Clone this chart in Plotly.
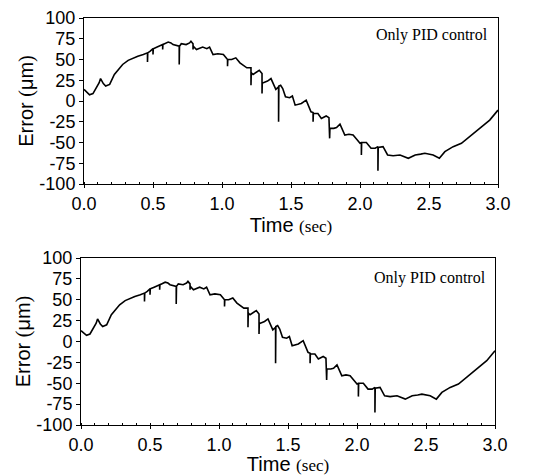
import plotly.graph_objects as go

# Time samples (s); repeated times mark the narrow downward spikes
time_s = [0, 0.02, 0.04, 0.065, 0.09, 0.11, 0.12, 0.14, 0.157, 0.186, 0.22, 0.25, 0.28, 0.32, 0.355,
          0.39, 0.43, 0.46, 0.46, 0.462, 0.48, 0.5, 0.5, 0.502, 0.53, 0.57, 0.57, 0.572, 0.61,
          0.63, 0.645, 0.69, 0.69, 0.692, 0.705, 0.74, 0.765, 0.775, 0.79, 0.79, 0.792, 0.815,
          0.84, 0.86, 0.89, 0.91, 0.935, 0.97, 1.01, 1.04, 1.04, 1.042, 1.07, 1.10, 1.13, 1.16,
          1.18, 1.20, 1.21, 1.21, 1.212, 1.225, 1.25, 1.27, 1.29, 1.29, 1.292, 1.30, 1.33,
          1.355, 1.39, 1.41, 1.41, 1.412, 1.425, 1.44, 1.46, 1.49, 1.51, 1.53, 1.575, 1.61,
          1.645, 1.66, 1.66, 1.662, 1.695, 1.72, 1.755, 1.775, 1.78, 1.782, 1.81, 1.83, 1.855,
          1.89, 1.92, 1.95, 2.0, 2.01, 2.01, 2.012, 2.046, 2.08, 2.11, 2.13, 2.13, 2.132, 2.167,
          2.2, 2.24, 2.29, 2.35, 2.4, 2.44, 2.47, 2.53, 2.575, 2.615, 2.675, 2.735, 2.795,
          2.87, 2.94, 3.0]

error_top = [14, 11, 7.5, 9, 16, 22, 27, 21, 18, 20, 32, 38, 44, 49, 52,
             54, 56, 58, 47, 58, 60, 63, 56, 63, 65, 68, 62, 68, 71,
             70, 68, 66, 44, 66, 69, 68, 70, 72, 69, 62, 66, 62,
             64, 65, 63, 65, 56, 57, 56, 50, 42, 50, 50, 52, 46, 42,
             40, 40, 40, 19, 34, 32, 35, 37, 33, 9, 22, 22, 24,
             27, 14, 17, -25, 18, 19, 15, 5, 4, 6, -5, -3, 1,
             -13, -14, -25, -15, -15, -21, -18, -20, -45, -33, -33, -32, -28,
             -41, -40, -41, -51, -50, -65, -50, -50, -57, -57, -55, -84, -56, -55,
             -65, -66, -65, -69, -65, -64, -63, -65, -69, -61, -55, -51, -43,
             -33, -23, -11]

error_bottom = [13, 10, 7.5, 9, 16, 22, 27, 21, 18, 20, 32, 38, 44, 49, 52,
                54, 56, 58, 48, 58, 60, 63, 56, 63, 65, 68, 62, 68, 71,
                70, 68, 66, 45, 66, 69, 68, 70, 72, 69, 62, 66, 62,
                64, 65, 63, 65, 56, 57, 56, 50, 42, 50, 50, 52, 46, 42,
                40, 40, 40, 17, 34, 32, 35, 37, 33, 9, 22, 22, 24,
                27, 14, 17, -26, 18, 19, 15, 5, 4, 6, -5, -3, 1,
                -13, -14, -26, -15, -15, -21, -18, -20, -46, -33, -33, -32, -28,
                -41, -40, -41, -51, -50, -66, -50, -50, -57, -57, -55, -85, -56, -55,
                -65, -66, -65, -69, -65, -64, -63, -65, -69, -61, -55, -51, -43,
                -33, -23, -11]

x_ticks = [0.0, 0.5, 1.0, 1.5, 2.0, 2.5, 3.0]
x_tick_labels = ["0.0", "0.5", "1.0", "1.5", "2.0", "2.5", "3.0"]
y_ticks = [-100, -75, -50, -25, 0, 25, 50, 75, 100]
y_tick_labels = ["-100", "-75", "-50", "-25", "0", "25", "50", "75", "100"]
panel_label = "Only PID control"

# The page body adds an 8 px offset; lay the figure out in window pixels
OFF = 8
W, H = 545 - OFF, 475 - OFF

def px_x(p):
    return (p - OFF) / W

def px_y(p):
    return 1 - (p - OFF) / H

fig = go.Figure()
fig.add_trace(go.Scatter(x=time_s, y=error_top, mode="lines",
                         line=dict(color="black", width=1.6), xaxis="x", yaxis="y",
                         showlegend=False))
fig.add_trace(go.Scatter(x=time_s, y=error_bottom, mode="lines",
                         line=dict(color="black", width=1.6), xaxis="x2", yaxis="y2",
                         showlegend=False))

sans = "Liberation Sans, Arial, sans-serif"
serif = "Liberation Serif, Times New Roman, serif"
tickfont = dict(family=sans, size=18, color="black")

xtitle = dict(text='Time <span style="font-family:Liberation Serif;font-size:17px">(sec)</span>',
              font=dict(family=sans, size=20, color="black"), standoff=2)
ytitle = dict(text='Error <span style="font-family:Liberation Serif">(</span>\u03bcm<span style="font-family:Liberation Serif">)</span>',
              font=dict(family=sans, size=20, color="black"), standoff=0)

def xax(domain, anchor):
    return dict(domain=domain, anchor=anchor, range=[0, 3], tickvals=x_ticks,
                ticktext=x_tick_labels, ticks="outside", ticklen=3, tickwidth=1,
                tickcolor="black", showline=True, linecolor="black", linewidth=1,
                mirror=True, showgrid=False, zeroline=False, tickfont=tickfont,
                title=xtitle, automargin=False, ticklabeloverflow="allow",
                minor=dict(dtick=0.1, ticks="inside", ticklen=2, tickcolor="black"))

def yax(domain, anchor):
    return dict(domain=domain, anchor=anchor, range=[-100, 100], tickvals=y_ticks,
                ticktext=y_tick_labels, ticks="outside", ticklen=4, tickwidth=1,
                tickcolor="black", showline=True, linecolor="black", linewidth=1,
                mirror=True, showgrid=False, zeroline=False, tickfont=tickfont,
                title=ytitle, automargin=False, ticklabeloverflow="allow")

fig.update_layout(
    width=W, height=H, margin=dict(l=0, r=0, t=0, b=0),
    paper_bgcolor="white", plot_bgcolor="white",
    xaxis=xax([px_x(84), px_x(498)], "y"),
    yaxis=yax([px_y(184), px_y(18)], "x"),
    xaxis2=xax([px_x(81), px_x(495)], "y2"),
    yaxis2=yax([px_y(425), px_y(258)], "x2"),
    annotations=[
        dict(text=panel_label, xref="paper", yref="paper", x=px_x(490), y=px_y(35),
             xanchor="right", yanchor="middle", showarrow=False,
             font=dict(family=serif, size=16, color="black")),
        dict(text=panel_label, xref="paper", yref="paper", x=px_x(488), y=px_y(278),
             xanchor="right", yanchor="middle", showarrow=False,
             font=dict(family=serif, size=16, color="black")),
    ],
)

fig.write_html("out.html")
